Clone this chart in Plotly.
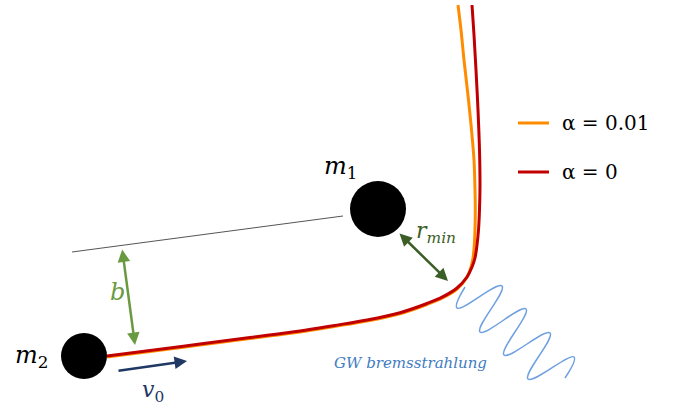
import plotly.graph_objects as go

# Trajectory samples (pixel-space diagram coordinates)
red_x = [107, 150, 200, 250, 300, 333, 367, 400, 427, 443, 457, 467, 472, 475, 477,
         478.5, 479.5, 480, 479.5, 478, 476, 474, 472]
red_y = [356, 350.5, 344, 337.5, 331, 325.7, 320, 312.7, 303.5, 296.7, 288, 277, 267, 258, 245,
         230, 210, 185, 150, 110, 70, 35, 5]
orange_x = [107, 150, 200, 250, 300, 333, 367, 400, 427, 443, 457, 466.5, 471, 473, 474.3,
            475, 475.3, 475, 474, 471.5, 468.5, 464, 461, 458]
orange_y = [357, 351.5, 345, 338.5, 332, 326.7, 321, 313.7, 304.5, 297.7, 289, 278, 267,
            258, 245, 230, 210, 190, 160, 130, 100, 60, 30, 5]

# Gravitational-wave zigzag turning points
gw_x = [465, 457, 502, 480, 526, 504, 550, 528, 574, 565]
gw_y = [287, 308, 286, 332, 309, 355, 333, 379, 357, 378]

# Bodies
mass_x = [378, 84]
mass_y = [209, 356]
mass_r = [28, 23]

# Reference (asymptote) line
ref_x = [72, 343]
ref_y = [252, 216]

legend_names = ["α = 0.01", "α = 0"]
legend_colors = ["#FF8C00", "#C00000"]

fig = go.Figure()

fig.add_trace(go.Scatter(x=ref_x, y=ref_y, mode="lines",
                         line=dict(color="#555555", width=1), hoverinfo="skip"))
fig.add_trace(go.Scatter(x=gw_x, y=gw_y, mode="lines",
                         line=dict(color="#6FA0E0", width=1.5, shape="spline", smoothing=1.3),
                         hoverinfo="skip"))
fig.add_trace(go.Scatter(x=orange_x, y=orange_y, mode="lines",
                         line=dict(color=legend_colors[0], width=3, shape="spline", smoothing=1.0),
                         hoverinfo="skip"))
fig.add_trace(go.Scatter(x=red_x, y=red_y, mode="lines",
                         line=dict(color=legend_colors[1], width=3, shape="spline", smoothing=1.0),
                         hoverinfo="skip"))

shapes = []
for cx, cy, r in zip(mass_x, mass_y, mass_r):
    shapes.append(dict(type="circle", xref="x", yref="y", x0=cx - r, x1=cx + r,
                       y0=cy - r, y1=cy + r, fillcolor="black", line=dict(width=0),
                       layer="above"))

# legend samples
leg_y = [123, 172]
for yy, c in zip(leg_y, legend_colors):
    fig.add_trace(go.Scatter(x=[518, 549], y=[yy, yy], mode="lines",
                             line=dict(color=c, width=3), hoverinfo="skip"))

ann = []
for name, yy in zip(legend_names, leg_y):
    ann.append(dict(x=560, y=yy, text=name, showarrow=False, xanchor="left", yanchor="middle",
                    font=dict(family="DejaVu Serif", size=20, color="black")))

math_font = "DejaVu Serif"
ann.append(dict(x=340, y=167, text="<i>m</i><sub>1</sub>", showarrow=False,
                font=dict(family=math_font, size=24, color="black")))
ann.append(dict(x=31, y=356, text="<i>m</i><sub>2</sub>", showarrow=False,
                font=dict(family=math_font, size=24, color="black")))
ann.append(dict(x=117, y=292, text="<i>b</i>", showarrow=False,
                font=dict(family=math_font, size=24, color="#6A9A40")))
ann.append(dict(x=436, y=232, text="<i>r</i><sub><i>min</i></sub>", showarrow=False,
                font=dict(family=math_font, size=22, color="#3B5E27")))
ann.append(dict(x=153, y=391, text="<i>v</i><sub>0</sub>", showarrow=False,
                font=dict(family=math_font, size=22, color="#1F3864")))
ann.append(dict(x=410, y=363, text="<i>GW bremsstrahlung</i>", showarrow=False,
                font=dict(family=math_font, size=15, color="#3F7CC0")))

# arrows
ann.append(dict(x=135, y=345, ax=122, ay=248, axref="x", ayref="y", xref="x", yref="y",
                showarrow=True, arrowhead=2, startarrowhead=2, arrowside="end+start",
                arrowwidth=2.5, arrowsize=1, startarrowsize=1, arrowcolor="#6A9A40", text=""))
ann.append(dict(x=448, y=281, ax=398, ay=232, axref="x", ayref="y", xref="x", yref="y",
                showarrow=True, arrowhead=2, startarrowhead=2, arrowside="end+start",
                arrowwidth=2.5, arrowsize=1, startarrowsize=1, arrowcolor="#3B5E27", text=""))
ann.append(dict(x=187, y=361, ax=117, ay=371, axref="x", ayref="y", xref="x", yref="y",
                showarrow=True, arrowhead=2, arrowwidth=2.5, arrowsize=1,
                arrowcolor="#1F3864", text=""))

fig.update_layout(
    width=678, height=412, margin=dict(l=0, r=0, t=0, b=0),
    plot_bgcolor="white", paper_bgcolor="white", showlegend=False,
    annotations=ann, shapes=shapes,
    xaxis=dict(range=[0, 678], visible=False, fixedrange=True),
    yaxis=dict(range=[412, 0], visible=False, fixedrange=True),
)
fig.write_html("out.html", config={"displayModeBar": False},
               post_script="document.body.style.margin='0';document.body.style.overflow='hidden';")
